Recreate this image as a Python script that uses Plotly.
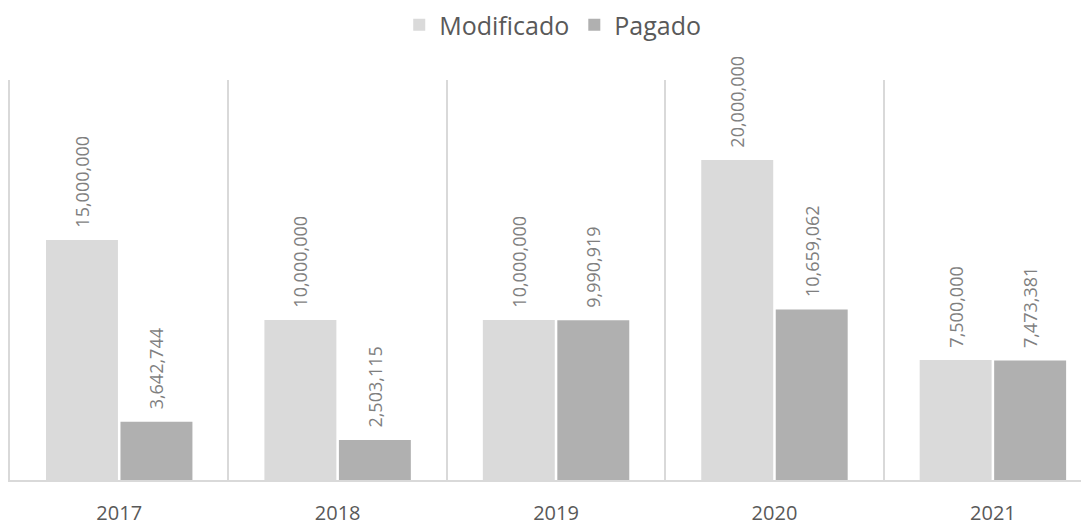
import plotly.graph_objects as go

years = ["2017", "2018", "2019", "2020", "2021"]
modificado = [15000000, 10000000, 10000000, 20000000, 7500000]
pagado = [3642744, 2503115, 9990919, 10659062, 7473381]

xpos = list(range(len(years)))
pad = "\u00a0\u00a0"

def labels(vals):
    return [pad + f"{v:,}" for v in vals]

fig = go.Figure()
fig.add_trace(go.Bar(
    name="Modificado", x=xpos, y=modificado,
    marker=dict(color="#dadada", line=dict(width=0)),
    text=labels(modificado), textposition="outside",
    textangle=-90, cliponaxis=False, constraintext="none",
    textfont=dict(family="Open Sans", size=18, color="#7f7f7f"),
))
fig.add_trace(go.Bar(
    name="Pagado", x=xpos, y=pagado,
    marker=dict(color="#b0b0b0", line=dict(width=0)),
    text=labels(pagado), textposition="outside",
    textangle=-90, cliponaxis=False, constraintext="none",
    textfont=dict(family="Open Sans", size=18, color="#7f7f7f"),
))

# page body has an 8px margin; compensate so the plot lands where the reference has it
fig.update_layout(
    width=1081, height=517,
    margin=dict(l=2, r=0, t=72, b=45, autoexpand=False),
    paper_bgcolor="white", plot_bgcolor="white",
    barmode="group", bargap=0.318, bargroupgap=0.034,
    showlegend=True,
    legend=dict(orientation="h", x=0.503, xanchor="center", y=1.1375,
                yanchor="middle", font=dict(family="Open Sans", size=25, color="#595959"),
                itemwidth=30, traceorder="normal"),
    font=dict(family="Open Sans", color="#595959"),
)
fig.update_xaxes(
    range=[-0.5, 4.44], tickvals=xpos, ticktext=years,
    showgrid=False, zeroline=False, automargin=False,
    showline=True, linecolor="#d9d9d9", linewidth=2,
    ticks="", ticklabelstandoff=14,
    tickfont=dict(family="Open Sans", size=20, color="#595959"),
    minor=dict(tick0=-0.5, dtick=1, showgrid=True, gridcolor="#d9d9d9", gridwidth=2, ticks=""),
)
fig.update_yaxes(
    range=[0, 25000000], showgrid=False, zeroline=False, automargin=False,
    showticklabels=False, showline=True, linecolor="#d9d9d9", linewidth=2,
)

fig.write_html("out.html")
